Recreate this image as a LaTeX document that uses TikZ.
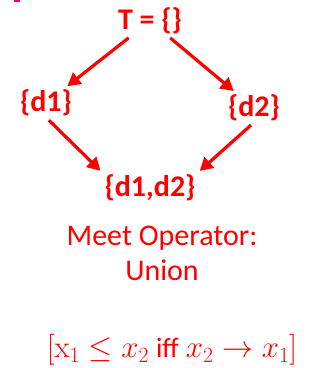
\RequirePackage{fix-cm}
\documentclass[tikz,border=0pt]{standalone}
\usepackage[no-math]{fontspec}
\setmainfont{Carlito}
\usetikzlibrary{arrows.meta}
\usetikzlibrary{positioning}
\definecolor{setred}{RGB}{255,0,0}

\begin{document}
\begin{tikzpicture}[x=1pt, y=-1pt, lattice/.style = {text=setred, font=\fontsize{30}{32}\selectfont\bfseries, inner sep=1pt}, note/.style = {text=setred, font=\fontsize{30}{35}\selectfont, align=center}, order/.style = {draw=setred, line width=3.2pt, -{Triangle[length=13pt,width=14pt]}, shorten <=4pt, shorten >=4pt}, on grid]

\useasboundingbox (0,0) rectangle (322,368);
\fill[magenta] (14,0) rectangle (20,2);

\node[lattice] at (150,21) (top){T = \{\}};
\node[lattice, below left=82pt and 104pt of top](d1){\{d1\}};
\node[lattice, below right=87pt and 104pt of top](d2){\{d2\}};
\node[lattice, below=167pt of top](d12){\{d1,d2\}};
\node[note, below=232pt of top, xshift=12pt](meet){Meet Operator:\\Union};
\node[note, below=329pt of top, xshift=22pt, font=\fontsize{31}{33}\selectfont](order){$[\mathrm{x}_1 \le x_2$ {\fontsize{28}{30}\selectfont iff} $x_2 \rightarrow x_1]$};

\draw [order] (top) to (d1);
\draw [order] (top) to (d2);
\draw [order] (d1.south) to (d12.north west);
\draw [order] (d2.south) to (d12.north east);

\end{tikzpicture}
\end{document}
